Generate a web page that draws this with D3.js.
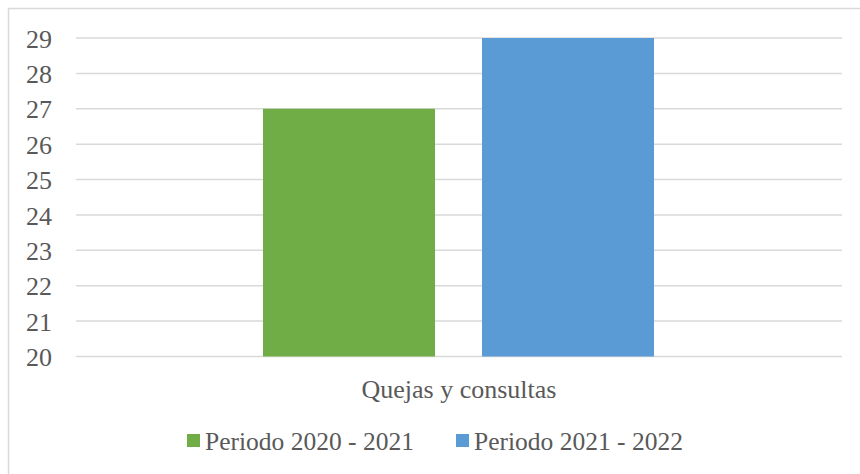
<!DOCTYPE html>
<html>
<head>
<meta charset="utf-8">
<script src="https://d3js.org/d3.v7.min.js"></script>
<style>
  body { margin: 0; background: #fff; }
  svg { display: block; }
  svg text { font-family: "Liberation Serif", "Times New Roman", serif; }
  .tick text { fill: #595959; font-size: 26px; }
</style>
</head>
<body>
<svg id="chart" width="860" height="474"></svg>
<script>
const category = "Quejas y consultas";
const series = ["Periodo 2020 - 2021", "Periodo 2021 - 2022"];
const values = [27, 29];
const colors = ["#70ad47", "#5b9bd5"];
const yTicks = [20, 21, 22, 23, 24, 25, 26, 27, 28, 29];

const svg = d3.select("#chart");

// chart frame (only left and top edges show)
svg.append("rect")
    .attr("x", 8.5).attr("y", 8.5)
    .attr("width", 900).attr("height", 500)
    .attr("fill", "none")
    .attr("stroke", "#d9d9d9")
    .attr("stroke-width", 1.5);

const plotLeft = 76, plotRight = 842, plotTop = 38, plotBottom = 356.5;

const y = d3.scaleLinear().domain([20, 29]).range([plotBottom, plotTop]);
const x0 = d3.scaleBand().domain([category]).range([plotLeft, plotRight]);
const x1 = d3.scaleBand().domain(series).range([263, 654]).paddingInner(0.2146);

// gridlines
svg.append("g")
    .selectAll("line")
    .data(yTicks)
    .join("line")
    .attr("x1", plotLeft).attr("x2", plotRight)
    .attr("y1", d => y(d)).attr("y2", d => y(d))
    .attr("stroke", "#d9d9d9")
    .attr("stroke-width", 1.5);

// y axis labels
const yAxis = svg.append("g")
    .attr("transform", `translate(${plotLeft}, 0)`)
    .call(d3.axisLeft(y).tickValues(yTicks).tickSize(0).tickPadding(24));
yAxis.attr("font-family", null).attr("font-size", null);
yAxis.select(".domain").remove();
yAxis.selectAll("text").attr("dy", "0.35em");

// bars
svg.append("g")
    .selectAll("rect")
    .data(series)
    .join("rect")
    .attr("x", d => x1(d))
    .attr("y", (d, i) => y(values[i]))
    .attr("width", x1.bandwidth())
    .attr("height", (d, i) => y(20) - y(values[i]))
    .attr("fill", (d, i) => colors[i]);

// category label
svg.append("text")
    .text(category)
    .attr("x", x0(category) + x0.bandwidth() / 2)
    .attr("y", 398)
    .attr("text-anchor", "middle")
    .attr("fill", "#595959")
    .attr("font-size", 26);

// legend
const legendX = [187, 456];
const legend = svg.append("g")
    .selectAll("g")
    .data(series)
    .join("g")
    .attr("transform", (d, i) => `translate(${legendX[i]}, 434)`);

legend.append("rect")
    .attr("width", 13).attr("height", 13)
    .attr("fill", (d, i) => colors[i]);

legend.append("text")
    .text(d => d)
    .attr("x", 18)
    .attr("y", 16)
    .attr("fill", "#595959")
    .attr("font-size", 25.5);
</script>
</body>
</html>
